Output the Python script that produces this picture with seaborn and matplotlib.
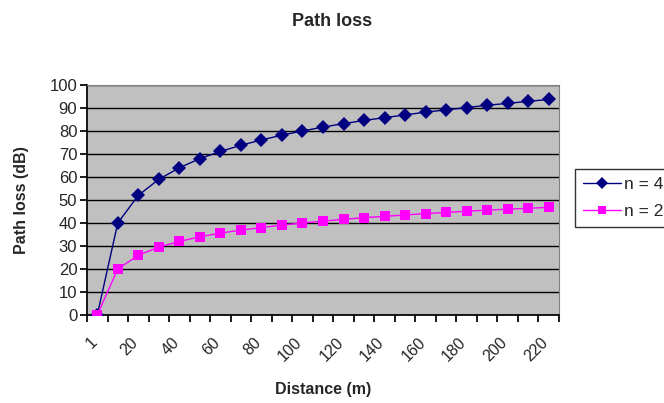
import matplotlib
matplotlib.use("Agg")
import matplotlib.pyplot as plt
import matplotlib.transforms as mtransforms
import seaborn as sns
import pandas as pd

distances = [1, 10, 20, 30, 40, 50, 60, 70, 80, 90, 100, 110, 120, 130, 140, 150,
             160, 170, 180, 190, 200, 210, 220]
loss_n4 = [0, 40, 52, 59, 64, 68, 71.1, 73.8, 76.1, 78.2, 80, 81.7, 83.2, 84.6, 85.8,
           87, 88.2, 89.2, 90.2, 91.2, 92, 92.9, 93.7]
loss_n2 = [0, 20, 26, 29.5, 32, 34, 35.6, 36.9, 38, 39.1, 40, 40.8, 41.6, 42.3, 42.9,
           43.5, 44.1, 44.6, 45.1, 45.6, 46, 46.4, 46.8]
series_names = ["n = 4", "n = 2"]
tick_labels = [str(d) for d in distances]

sns.set_theme(style="white")
plt.rcParams["font.family"] = ["Liberation Sans", "DejaVu Sans"]

rows = []
for i, d in enumerate(distances):
    rows.append({"pos": i, "loss": loss_n4[i], "series": series_names[0]})
    rows.append({"pos": i, "loss": loss_n2[i], "series": series_names[1]})
df = pd.DataFrame(rows)

fig = plt.figure(figsize=(6.64, 4.03), dpi=100)
ax = fig.add_axes([87 / 664, 1 - 315 / 403, (559 - 87) / 664, (315 - 85) / 403])
ax.set_facecolor("#C0C0C0")

sns.lineplot(data=df, x="pos", y="loss", hue="series", style="series",
             palette={"n = 4": "#000080", "n = 2": "#FF00FF"},
             markers={"n = 4": "D", "n = 2": "s"}, dashes=False,
             markersize=7, linewidth=1.0, markeredgewidth=0, ax=ax, zorder=3)

ax.set_xlim(-0.5, len(distances) - 0.5)
ax.set_ylim(0, 100)
ax.set_yticks(range(0, 101, 10))
ax.yaxis.grid(True, color="black", linewidth=1.0)
ax.set_axisbelow(True)

ax.set_xticks([i + 0.5 for i in range(-1, len(distances))], minor=False)
ax.set_xticklabels([])
ax.set_xticks(range(0, len(distances), 2), minor=True)
ax.set_xticklabels(tick_labels[::2], minor=True, rotation=45, ha="right",
                   rotation_mode="anchor", fontsize=11.5)
ax.tick_params(axis="x", which="major", length=5, direction="out", color="black", bottom=True)
ax.tick_params(axis="x", which="minor", length=0, pad=4, bottom=True)
ax.tick_params(axis="y", length=5, direction="out", color="black", left=True, labelsize=12, pad=2)

offset = mtransforms.ScaledTranslation(-8 / 100, -14 / 100, fig.dpi_scale_trans)
for lab in ax.get_xticklabels(minor=True):
    lab.set_transform(lab.get_transform() + offset)

for s in ["top", "right"]:
    ax.spines[s].set_color("#808080")
    ax.spines[s].set_linewidth(0.8)
ax.spines["left"].set_color("black")
ax.spines["bottom"].set_color("black")

ax.set_xlabel("Distance (m)", fontsize=11.5, fontweight="bold", labelpad=13)
ax.set_ylabel("Path loss (dB)", fontsize=11.5, fontweight="bold", labelpad=15)
fig.suptitle("Path loss", x=332 / 664, y=1 - 13 / 403, fontsize=13, fontweight="bold",
             va="top")

handles, labels = ax.get_legend_handles_labels()
for h in handles:
    h.set_markersize(6)
ax.legend(handles, labels, loc="upper left", bbox_to_anchor=(575 / 664, 1 - 169 / 403),
          bbox_transform=fig.transFigure, frameon=True, fancybox=False,
          edgecolor="black", fontsize=12.5, handlelength=2.2, borderpad=0.45,
          labelspacing=0.7, handletextpad=0.2, borderaxespad=0)
ax.get_legend().get_frame().set_linewidth(1.0)

fig.savefig("out.png", dpi=100)
